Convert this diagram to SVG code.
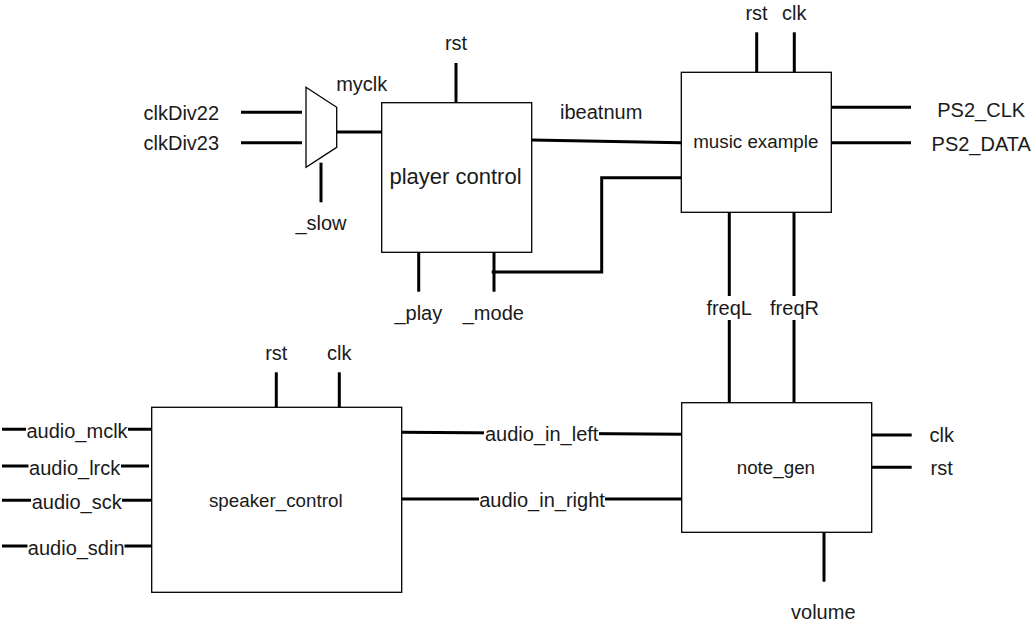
<svg xmlns="http://www.w3.org/2000/svg" width="1032" height="625" viewBox="0 0 1032 625">
<style>
  .box { fill: #ffffff; stroke: #000000; stroke-width: 1.3; }
  .wire { fill: none; stroke: #000000; stroke-width: 3; }
  .t { font-family: "Liberation Sans", Arial, sans-serif; font-size: 20px; fill: #1a1a1a; text-anchor: middle; }
  .tb { font-family: "Liberation Sans", Arial, sans-serif; font-size: 18.8px; fill: #1a1a1a; text-anchor: middle; }
  .tbig { font-family: "Liberation Sans", Arial, sans-serif; font-size: 22px; fill: #1a1a1a; text-anchor: middle; }
  .bg { fill: #ffffff; stroke: none; }
</style>
<rect x="0" y="0" width="1032" height="625" fill="#ffffff"/>

<g id="connectors">
  <!-- mux inputs -->
  <line class="wire" x1="241" y1="112.3" x2="302" y2="112.3"/>
  <line class="wire" x1="241" y1="142.7" x2="302" y2="142.7"/>
  <line class="wire" x1="321" y1="162.7" x2="321" y2="202.3"/>
  <line class="wire" x1="336.7" y1="132" x2="382" y2="132"/>
  <!-- player control pins -->
  <line class="wire" x1="456" y1="63" x2="456" y2="103"/>
  <line class="wire" x1="418.7" y1="252" x2="418.7" y2="291.7"/>
  <line class="wire" x1="494" y1="252" x2="494" y2="291.7"/>
  <polyline class="wire" points="491.7,272 601.7,272 601.7,177.7 681.3,177.7"/>
  <line class="wire" x1="531.7" y1="140" x2="681.3" y2="142.7"/>
  <!-- music example pins -->
  <line class="wire" x1="756.7" y1="32.3" x2="756.7" y2="72.3"/>
  <line class="wire" x1="794.3" y1="32.3" x2="794.3" y2="72.3"/>
  <line class="wire" x1="831.3" y1="107.3" x2="911" y2="107.3"/>
  <line class="wire" x1="831.3" y1="142.7" x2="911" y2="142.7"/>
  <line class="wire" x1="729.3" y1="212.3" x2="729.3" y2="402.7"/>
  <line class="wire" x1="794" y1="212.3" x2="794" y2="402.7"/>
  <!-- note_gen pins -->
  <line class="wire" x1="871.7" y1="435" x2="911.7" y2="435"/>
  <line class="wire" x1="871.7" y1="467.3" x2="911.7" y2="467.3"/>
  <line class="wire" x1="824" y1="532.3" x2="824" y2="581.7"/>
  <!-- speaker pins -->
  <line class="wire" x1="276.3" y1="372.3" x2="276.3" y2="407.3"/>
  <line class="wire" x1="339.3" y1="372.3" x2="339.3" y2="407.3"/>
  <line class="wire" x1="2" y1="429.3" x2="152" y2="429.3"/>
  <line class="wire" x1="2" y1="466" x2="149" y2="466"/>
  <line class="wire" x1="2" y1="500.3" x2="152" y2="500.3"/>
  <line class="wire" x1="2" y1="546" x2="152" y2="546"/>
  <line class="wire" x1="401.7" y1="432.3" x2="681.7" y2="434.3"/>
  <line class="wire" x1="401.7" y1="499" x2="681.7" y2="499"/>

  <!-- label backgrounds -->
  <rect class="bg" x="706" y="296" width="46" height="24"/>
  <rect class="bg" x="769" y="296" width="51" height="24"/>
  <rect class="bg" x="26" y="419" width="102" height="21"/>
  <rect class="bg" x="28.5" y="456" width="92.5" height="21"/>
  <rect class="bg" x="31" y="490" width="91" height="21"/>
  <rect class="bg" x="27.5" y="536" width="97" height="21"/>
  <rect class="bg" x="484" y="423" width="115" height="21"/>
  <rect class="bg" x="479" y="489" width="126" height="21"/>

  <!-- labels -->
  <text class="t" x="181.3" y="120">clkDiv22</text>
  <text class="t" x="181.3" y="150">clkDiv23</text>
  <text class="t" x="361.7" y="91">myclk</text>
  <text class="t" x="321" y="230">_slow</text>
  <text class="t" x="456" y="50">rst</text>
  <text class="t" x="418.3" y="320">_play</text>
  <text class="t" x="493.3" y="320">_mode</text>
  <text class="t" x="601.2" y="119">ibeatnum</text>
  <text class="t" x="756.5" y="20">rst</text>
  <text class="t" x="794.3" y="20">clk</text>
  <text class="t" x="981.2" y="116.7">PS2_CLK</text>
  <text class="t" x="981.2" y="151">PS2_DATA</text>
  <text class="t" x="729.2" y="315">freqL</text>
  <text class="t" x="794.5" y="315">freqR</text>
  <text class="t" x="941.7" y="441.7">clk</text>
  <text class="t" x="941.7" y="475">rst</text>
  <text class="t" x="823.3" y="619">volume</text>
  <text class="t" x="276.3" y="360">rst</text>
  <text class="t" x="339.3" y="360">clk</text>
  <text class="t" x="77" y="438">audio_mclk</text>
  <text class="t" x="74.7" y="474.5">audio_lrck</text>
  <text class="t" x="76.7" y="508.8">audio_sck</text>
  <text class="t" x="76.2" y="554.5">audio_sdin</text>
  <text class="t" x="541.7" y="441">audio_in_left</text>
  <text class="t" x="542" y="507">audio_in_right</text>
</g>

<g id="mux">
  <polygon class="box" points="306,87.3 336.7,107.3 336.7,147.3 306,167.3"/>
</g>

<g id="player-control">
  <rect class="box" x="381.7" y="102.7" width="150" height="149.6"/>
  <text class="tbig" x="455.5" y="184">player control</text>
</g>

<g id="music-example">
  <rect class="box" x="681.3" y="72.3" width="150" height="140"/>
  <text class="tb" x="755.8" y="148">music example</text>
</g>

<g id="speaker-control">
  <rect class="box" x="151.7" y="407.3" width="250" height="185"/>
  <text class="tb" x="275.8" y="507">speaker_control</text>
</g>

<g id="note-gen">
  <rect class="box" x="681.7" y="402.7" width="190" height="129.6"/>
  <text class="tb" x="775.9" y="474">note_gen</text>
</g>
</svg>
